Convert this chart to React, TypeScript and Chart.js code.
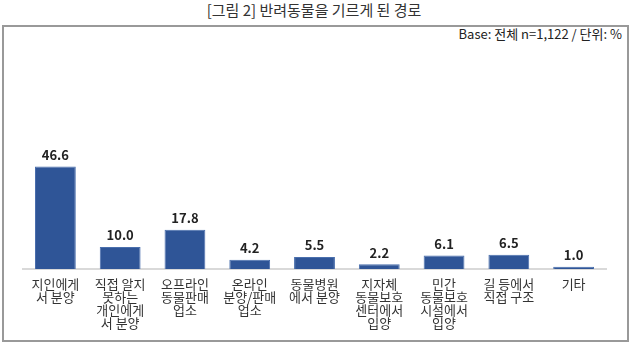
import React, { useEffect, useRef } from "react";
import { Chart, registerables } from "chart.js";

Chart.register(...registerables);

const categories: string[][] = [
  ["지인에게", "서 분양"],
  ["직접 알지", "못하는", "개인에게", "서 분양"],
  ["오프라인", "동물판매", "업소"],
  ["온라인", "분양/판매", "업소"],
  ["동물병원", "에서 분양"],
  ["지자체", "동물보호", "센터에서", "입양"],
  ["민간", "동물보호", "시설에서", "입양"],
  ["길 등에서", "직접 구조"],
  ["기타"],
];
const values: number[] = [46.6, 10.0, 17.8, 4.2, 5.5, 2.2, 6.1, 6.5, 1.0];
const titleText = "[그림 2] 반려동물을 기르게 된 경로";
const baseText = "Base: 전체 n=1,122 / 단위: %";

const FONT = "'Noto Sans CJK KR', 'Noto Sans', sans-serif";

const valueLabelPlugin = {
  id: "valueLabels",
  afterDatasetsDraw(chart: any) {
    const ctx = chart.ctx;
    const meta = chart.getDatasetMeta(0);
    ctx.save();
    ctx.font = `bold 13px ${FONT}`;
    ctx.fillStyle = "#222";
    ctx.textAlign = "center";
    ctx.textBaseline = "bottom";
    meta.data.forEach((bar: any, i: number) => {
      ctx.fillText(values[i].toFixed(1), bar.x, bar.y - 5);
    });
    ctx.restore();
  },
};

export default function App() {
  const canvasRef = useRef<HTMLCanvasElement | null>(null);

  useEffect(() => {
    if (!canvasRef.current) return;
    const chart = new Chart(canvasRef.current, {
      type: "bar",
      data: {
        labels: categories,
        datasets: [
          {
            data: values,
            backgroundColor: "#2F5597",
            borderColor: "#4A6FAD",
            borderWidth: 1,
            barPercentage: 0.63,
            categoryPercentage: 1,
          },
        ],
      },
      options: {
        responsive: false,
        animation: false,
        layout: { padding: { left: 23, right: 34, top: 137, bottom: 0 } },
        plugins: {
          legend: { display: false },
          tooltip: { enabled: false },
        },
        scales: {
          x: {
            grid: { display: false, drawTicks: false },
            border: { display: true, color: "#d9d9d9", width: 2 },
            ticks: {
              color: "#333",
              font: { family: FONT, size: 13, lineHeight: 1.0 },
              padding: 9,
              maxRotation: 0,
              autoSkip: false,
            },
            afterFit: (scale: any) => {
              scale.height = 89;
            },
          },
          y: {
            display: false,
            min: 0,
            max: 60,
          },
        },
      },
      plugins: [valueLabelPlugin],
    });
    return () => chart.destroy();
  }, []);

  return (
    <div
      style={{
        position: "fixed",
        left: 0,
        top: 0,
        width: 640,
        height: 358,
        background: "#fff",
        overflow: "hidden",
        fontFamily: FONT,
      }}
    >
      <div
        style={{
          position: "absolute",
          left: 0,
          top: 1,
          width: 628,
          textAlign: "center",
          fontSize: 15,
          color: "#333",
          lineHeight: "18px",
        }}
      >
        {titleText}
      </div>
      <div
        style={{
          position: "absolute",
          left: 2,
          top: 25,
          width: 627,
          height: 317,
          border: "2px solid #999",
          boxSizing: "border-box",
        }}
      />
      <div
        style={{
          position: "absolute",
          right: 18,
          top: 26,
          fontSize: 13,
          color: "#222",
          lineHeight: "16px",
          whiteSpace: "nowrap",
        }}
      >
        {baseText}
      </div>
      <canvas
        ref={canvasRef}
        width={640}
        height={358}
        style={{ position: "absolute", left: 0, top: 0 }}
      />
    </div>
  );
}
